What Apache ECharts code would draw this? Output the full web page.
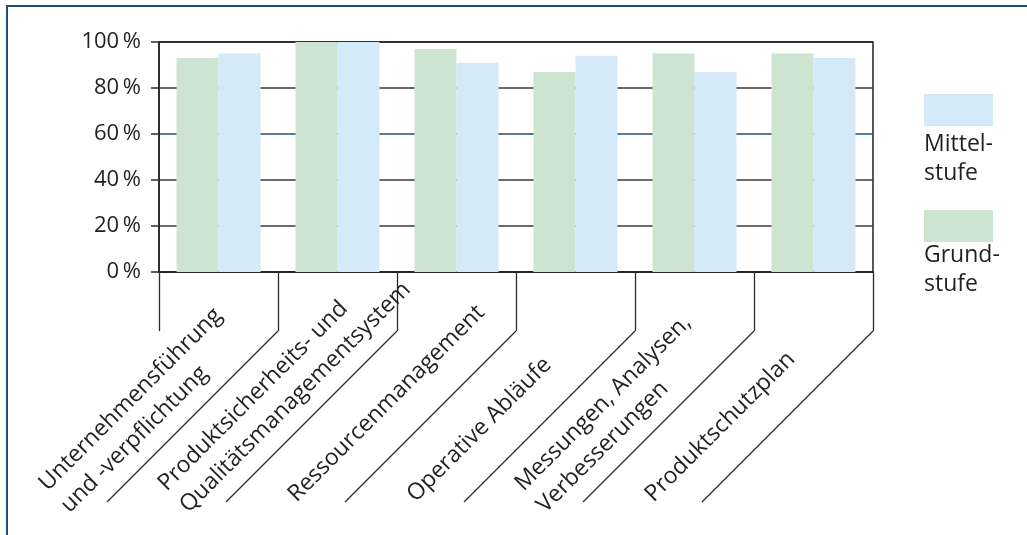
<!DOCTYPE html>
<html>
<head>
<meta charset="utf-8">
<script src="https://cdn.jsdelivr.net/npm/echarts@6/dist/echarts.min.js"></script>
<style>
  html, body { margin: 0; padding: 0; background: #fff; }
  #main { width: 1027px; height: 535px; }
</style>
</head>
<body>
<div id="main"></div>
<script>
// Kategorien (Zeilenumbruch wie im Original)
var categories = [
    'Unternehmensführung\nund -verpflichtung',
    'Produktsicherheits- und\nQualitätsmanagementsystem',
    'Ressourcenmanagement',
    'Operative Abläufe',
    'Messungen, Analysen,\nVerbesserungen',
    'Produktschutzplan'
];
var grundstufe = [93, 100, 97, 87, 95, 95];
var mittelstufe = [95, 100, 91, 94, 87, 93];
var yTicks = [0, 20, 40, 60, 80, 100];

var legendLabels = { 'Mittelstufe': 'Mittel-\nstufe', 'Grundstufe': 'Grund-\nstufe' };

var FONT = '"Open Sans", sans-serif';
var TXT = '#231f20';
var LINE = '#2b2b2b';

var myChart = echarts.init(document.getElementById('main'));

myChart.setOption({
    animation: false,
    textStyle: { fontFamily: FONT, color: TXT },
    // Rahmen oben und links
    graphic: [{
        type: 'rect',
        silent: true,
        z: -10,
        shape: { x: 7, y: 6, width: 1300, height: 800 },
        style: { fill: 'none', stroke: '#1f4e79', lineWidth: 2 }
    }],
    legend: [{
        // nur die Farbfelder
        data: ['Mittelstufe', 'Grundstufe'],
        orient: 'vertical',
        left: 919,
        top: 89,
        icon: 'rect',
        itemWidth: 69,
        itemHeight: 32,
        itemGap: 84,
        selectedMode: false,
        formatter: function () { return ''; }
    }, {
        // nur die Beschriftung unter den Feldern
        data: ['Mittelstufe', 'Grundstufe'],
        orient: 'vertical',
        left: 914,
        top: 125,
        itemWidth: 0,
        itemHeight: 2,
        itemGap: 53,
        selectedMode: false,
        itemStyle: { opacity: 0 },
        formatter: function (name) { return legendLabels[name]; },
        textStyle: { fontFamily: FONT, fontSize: 23, lineHeight: 29, color: TXT }
    }],
    grid: {
        left: 159,
        right: 154,
        top: 42,
        bottom: 263,
        show: true,
        borderColor: '#222',
        borderWidth: 1.5
    },
    xAxis: {
        type: 'category',
        data: categories,
        axisLine: { lineStyle: { color: '#222', width: 1.5 } },
        axisTick: { show: true, interval: 0, length: 59, lineStyle: { color: LINE, width: 1.3 } },
        axisLabel: { show: false }
    },
    yAxis: {
        type: 'value',
        min: yTicks[0],
        max: yTicks[yTicks.length - 1],
        interval: 20,
        axisLine: { show: true, lineStyle: { color: '#222', width: 1.5 } },
        axisTick: { show: true, length: 8, lineStyle: { color: LINE, width: 1.5 } },
        axisLabel: {
            formatter: '{value}\u2009%',
            fontFamily: FONT,
            fontSize: 22,
            color: TXT,
            margin: 18
        },
        splitLine: {
            lineStyle: {
                color: ['#222', '#3a3a3a', '#3a3a3a', '#1f4e79', '#3a3a3a', '#222'],
                width: 1.6
            }
        }
    },
    series: [
        {
            name: 'Grundstufe',
            type: 'bar',
            barWidth: 42,
            barGap: '0%',
            itemStyle: { color: '#cde5d0' },
            data: grundstufe
        },
        {
            name: 'Mittelstufe',
            type: 'bar',
            barWidth: 42,
            barGap: '0%',
            itemStyle: { color: '#d4eaf8' },
            data: mittelstufe
        },
        {
            // schräge Trennlinien und gedrehte Achsenbeschriftung
            name: 'achse',
            type: 'custom',
            silent: true,
            clip: false,
            z: 5,
            encode: { x: 0, y: 1 },
            data: categories.map(function (c, i) { return [i, 0]; }),
            renderItem: function (params, api) {
                var i = api.value(0);
                var base = api.coord([i, 0]);
                var bw = api.size([1, 0])[0];
                var xr = base[0] + bw / 2;
                var y0 = base[1];
                return {
                    type: 'group',
                    children: [{
                        type: 'line',
                        shape: { x1: xr, y1: y0 + 59, x2: xr - 171, y2: y0 + 230 },
                        style: { stroke: LINE, lineWidth: 1.3 }
                    }, {
                        type: 'text',
                        x: xr - 224,
                        y: y0 + 226,
                        rotation: Math.PI / 4,
                        style: {
                            text: categories[i],
                            font: '23px ' + FONT,
                            fill: TXT,
                            align: 'left',
                            verticalAlign: 'middle',
                            lineHeight: 31
                        }
                    }]
                };
            }
        }
    ]
});
</script>
</body>
</html>
